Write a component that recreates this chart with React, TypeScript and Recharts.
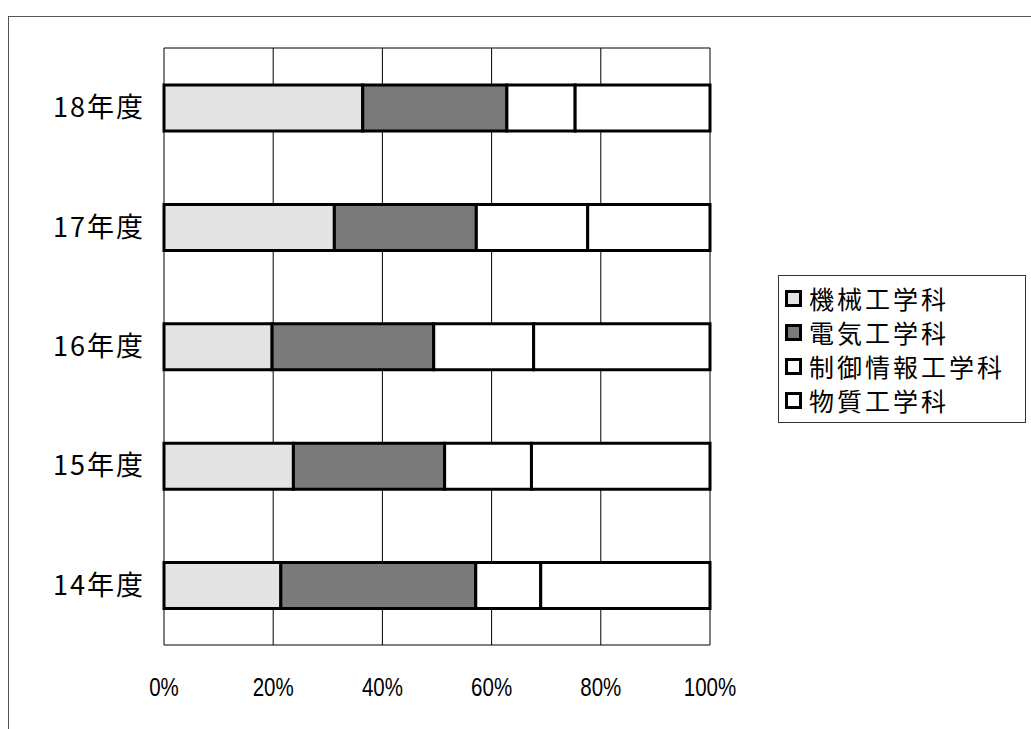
import React from "react";
import { BarChart, Bar, XAxis, YAxis, CartesianGrid, Legend } from "recharts";

const years = ["18年度", "17年度", "16年度", "15年度", "14年度"];
const kikai = [36.4, 31.2, 19.8, 23.7, 21.4];
const denki = [26.4, 26.0, 29.6, 27.7, 35.7];
const seigyo = [12.5, 20.4, 18.3, 15.9, 11.9];
const busshitsu = [24.7, 22.4, 32.3, 32.7, 31.0];
const seriesNames = ["機械工学科", "電気工学科", "制御情報工学科", "物質工学科"];
const xTicks = [0, 20, 40, 60, 80, 100];

const data = years.map((y, i) => ({
  year: y,
  a: kikai[i],
  b: denki[i],
  c: seigyo[i],
  d: busshitsu[i],
}));

const fills = ["#e4e4e4", "#7a7a7a", "#ffffff", "#ffffff"];
const keys = ["a", "b", "c", "d"];

const cjk = '"Noto Sans CJK JP", "Noto Sans", sans-serif';

const XTick = (props: any) => {
  const { x, y, payload } = props;
  return (
    <g transform={`translate(${x},${y})`}>
      <text
        x={0}
        y={0}
        dy={9}
        textAnchor="middle"
        transform="scale(0.82,1)"
        fill="#000"
        fontSize={25}
        fontFamily='"Liberation Sans", Arial, sans-serif'
      >
        {`${payload.value}%`}
      </text>
    </g>
  );
};

const ROW = 34;

const LegendContent = () => (
  <div
    style={{
      border: "1px solid #333",
      background: "#fff",
      padding: "5px 4px 5px 6px",
      fontFamily: cjk,
      fontSize: 25,
      letterSpacing: 3,
      color: "#000",
      width: 248,
      boxSizing: "border-box",
      whiteSpace: "nowrap",
    }}
  >
    {seriesNames.map((n, i) => (
      <div key={n} style={{ display: "flex", alignItems: "center", height: ROW }}>
        <span
          style={{
            display: "inline-block",
            width: 11,
            height: 11,
            border: "3px solid #000",
            background: fills[i],
            marginRight: 7,
            flex: "none",
          }}
        />
        <span
          style={{
            display: "inline-block",
            height: ROW - 2,
            lineHeight: `${ROW - 2}px`,
            overflow: "visible",
          }}
        >
          {n}
        </span>
      </div>
    ))}
  </div>
);

export default function App() {
  return (
    <div style={{ position: "absolute", left: 0, top: 0, width: 1031, height: 729, background: "#fff" }}>
      <div
        style={{
          position: "absolute",
          left: 8,
          top: 16,
          width: 1023,
          height: 713,
          borderLeft: "1.5px solid #555",
          borderTop: "1.5px solid #555",
        }}
      />
      <BarChart
        width={1031}
        height={729}
        data={data}
        layout="vertical"
        margin={{ top: 48, right: 321, bottom: 54, left: 0 }}
        style={{ position: "absolute", left: 0, top: 0 }}
      >
        <CartesianGrid
          stroke="#000"
          strokeWidth={1}
          vertical={true}
          horizontal={true}
          horizontalPoints={[48, 645]}
        />
        <XAxis
          type="number"
          domain={[0, 100]}
          ticks={xTicks}
          axisLine={false}
          tickLine={false}
          tickSize={0}
          tickMargin={42}
          height={30}
          interval={0}
          tick={<XTick />}
        />
        <YAxis
          type="category"
          dataKey="year"
          width={164}
          axisLine={false}
          tickLine={false}
          tickSize={0}
          tickMargin={19}
          tick={{ fill: "#000", fontSize: 27, fontFamily: cjk, letterSpacing: 2 }}
        />
        <Legend
          layout="vertical"
          align="center"
          verticalAlign="middle"
          content={<LegendContent />}
          wrapperStyle={{ left: 778, top: 275, width: 248 }}
        />
        {keys.map((k, i) => (
          <Bar
            key={k}
            dataKey={k}
            name={seriesNames[i]}
            stackId="s"
            fill={fills[i]}
            stroke="#000"
            strokeWidth={3}
            barSize={46}
            isAnimationActive={false}
          />
        ))}
      </BarChart>
    </div>
  );
}
